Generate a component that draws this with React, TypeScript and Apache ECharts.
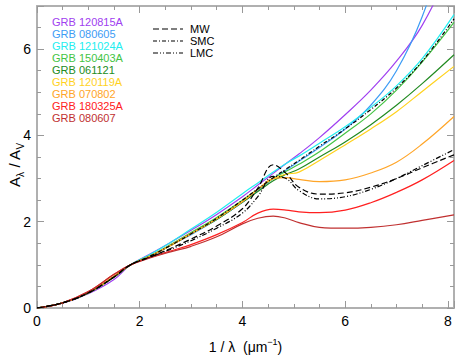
import React, { useEffect, useRef } from "react";
import * as echarts from "echarts";

const X = [0, 0.5, 1, 1.5, 1.82, 2.2, 2.6, 3, 3.5, 4, 4.3, 4.6, 4.85, 5.1, 5.5, 6, 6.5, 7, 7.5, 8.12];

const grb120815A = [0, 0.11, 0.33, 0.66, 1, 1.25, 1.52, 1.8, 2.17, 2.58, 2.85, 3.12, 3.35, 3.57, 3.95, 4.48, 5.05, 5.72, 6.55, 8.05];
const grb080605 = [0, 0.12, 0.35, 0.72, 1, 1.2, 1.45, 1.7, 2.05, 2.45, 2.72, 3.0, 3.2, 3.4, 3.72, 4.15, 4.7, 5.5, 6.75, 9.0];
const grb121024A = [0, 0.12, 0.35, 0.72, 1, 1.24, 1.52, 1.83, 2.22, 2.65, 2.9, 3.15, 3.35, 3.52, 3.82, 4.2, 4.65, 5.15, 5.78, 6.8];
const grb150403A = [0, 0.12, 0.35, 0.72, 1, 1.21, 1.47, 1.75, 2.1, 2.5, 2.75, 3.0, 3.17, 3.33, 3.62, 4.05, 4.5, 5.05, 5.7, 6.62];
const grb061121 = [0, 0.12, 0.35, 0.72, 1, 1.2, 1.45, 1.72, 2.05, 2.45, 2.7, 2.95, 3.1, 3.22, 3.5, 3.85, 4.25, 4.7, 5.2, 5.87];
const grb120119A = [0, 0.12, 0.35, 0.72, 1, 1.2, 1.45, 1.72, 2.07, 2.47, 2.75, 3.0, 3.1, 3.15, 3.42, 3.78, 4.15, 4.55, 5.02, 5.6];
const grb070802 = [0, 0.12, 0.36, 0.74, 1, 1.2, 1.45, 1.72, 2.07, 2.47, 2.75, 3.0, 3.02, 2.98, 2.93, 2.97, 3.13, 3.38, 3.8, 4.44];
const grb180325A = [0, 0.12, 0.38, 0.78, 1, 1.17, 1.32, 1.47, 1.7, 1.98, 2.2, 2.29, 2.27, 2.23, 2.21, 2.27, 2.44, 2.68, 2.97, 3.42];
const grb080607 = [0, 0.12, 0.38, 0.78, 1, 1.16, 1.3, 1.43, 1.65, 1.95, 2.08, 2.13, 2.08, 1.98, 1.87, 1.85, 1.87, 1.93, 2.03, 2.16];
const mwCurve = [0, 0.12, 0.35, 0.72, 1, 1.18, 1.38, 1.6, 1.9, 2.3, 2.78, 3.32, 3.12, 2.8, 2.64, 2.67, 2.8, 3.0, 3.25, 3.55];
const smcCurve = [0, 0.12, 0.35, 0.72, 1, 1.2, 1.45, 1.72, 2.08, 2.5, 2.76, 3.02, 3.22, 3.42, 3.75, 4.15, 4.6, 5.1, 5.72, 6.7];
const lmcCurve = [0, 0.12, 0.35, 0.72, 1, 1.18, 1.36, 1.56, 1.85, 2.2, 2.58, 3.05, 3.0, 2.72, 2.53, 2.58, 2.75, 3.0, 3.3, 3.67];

const grbNames = ["GRB 120815A", "GRB 080605", "GRB 121024A", "GRB 150403A", "GRB 061121", "GRB 120119A", "GRB 070802", "GRB 180325A", "GRB 080607"];
const grbColors = ["#a040f0", "#3d9cf5", "#22eef0", "#44c444", "#228b22", "#ffd21e", "#ffa528", "#ff2020", "#c03030"];
const grbValues = [grb120815A, grb080605, grb121024A, grb150403A, grb061121, grb120119A, grb070802, grb180325A, grb080607];

const refNames = ["MW", "SMC", "LMC"];
const refValues = [mwCurve, smcCurve, lmcCurve];
const refDashes = [[6, 3], [4, 2, 1, 2], [5, 2, 1, 2, 1, 2]];

const xTickLabels = [0, 2, 4, 6, 8];
const yTickLabels = [0, 2, 4, 6];

const FONT = "'Liberation Sans', Arial, Helvetica, sans-serif";
const AXIS_COLOR = "#b0b0b0";

export default function App() {
  const ref = useRef<HTMLDivElement>(null);
  useEffect(() => {
    document.body.style.margin = "0";
    const chart = echarts.init(ref.current!, undefined, { renderer: "svg" });
    const fmtX = (v: number) => (xTickLabels.includes(v) ? String(v) : "");
    const fmtY = (v: number) => (yTickLabels.includes(v) ? String(v) : "");
    const mkAxis = (pos: string, max: number, interval: number, len: number, labels: boolean, line: boolean, fmt: any) => ({
      type: "value",
      position: pos,
      min: 0,
      max,
      interval,
      splitLine: { show: false },
      axisLine: { show: line, onZero: false, lineStyle: { color: AXIS_COLOR, width: 2 } },
      axisTick: { show: true, inside: true, length: len, lineStyle: { color: "#999", width: 1 } },
      axisLabel: { show: labels, formatter: fmt, color: "#000", fontSize: 14, fontFamily: FONT, margin: 6 },
    });
    const xMax = 8.12;
    const series: any[] = [];
    grbValues.forEach((vals, k) => {
      series.push({
        type: "line",
        name: grbNames[k],
        data: X.map((x, i) => [x, vals[i]]),
        smooth: 0.4,
        showSymbol: false,
        lineStyle: { color: grbColors[k], width: 1.2 },
        itemStyle: { color: grbColors[k] },
        z: 2,
      });
    });
    refValues.forEach((vals, k) => {
      series.push({
        type: "line",
        name: refNames[k],
        data: X.map((x, i) => [x, vals[i]]),
        smooth: 0.4,
        showSymbol: false,
        lineStyle: { color: "#000", width: 1.2, type: refDashes[k] },
        itemStyle: { color: "#000" },
        z: 3,
      });
    });
    const graphics: any[] = [];
    grbNames.forEach((n, k) => {
      graphics.push({
        type: "text",
        left: 52,
        top: 16 + 12.1 * k,
        style: { text: n, fill: grbColors[k], font: `11px ${FONT}` },
      });
    });
    refNames.forEach((n, k) => {
      const y = 29 + 12 * k;
      graphics.push({
        type: "line",
        shape: { x1: 153, y1: y, x2: 183, y2: y },
        style: { stroke: "#000", lineWidth: 1.2, lineDash: refDashes[k] },
      });
      graphics.push({
        type: "text",
        left: 190,
        top: y - 6,
        style: { text: n, fill: "#000", font: `11px ${FONT}` },
      });
    });
    graphics.push({
      type: "text",
      x: 16,
      y: 165,
      rotation: Math.PI / 2,
      style: {
        text: "{a|A}{s|λ}{a| / A}{s|V}",
        align: "center",
        verticalAlign: "middle",
        rich: {
          a: { fontSize: 15, fontFamily: FONT, fill: "#000", lineHeight: 18, verticalAlign: "top" },
          s: { fontSize: 10, fontFamily: FONT, fill: "#000", lineHeight: 18, verticalAlign: "bottom" },
        },
      },
    });
    chart.setOption({
      animation: false,
      grid: { left: 37, right: 9, top: 6, bottom: 47, containLabel: false, outerBoundsMode: "none" },
      xAxis: [
        {
          ...mkAxis("bottom", xMax, 2, 7, true, true, fmtX),
          name: "{a|1 / λ  (μm}{s|−1}{a|)}",
          nameLocation: "middle",
          nameGap: 29,
          nameTextStyle: {
            rich: {
              a: { fontSize: 14, fontFamily: FONT, color: "#000", lineHeight: 17, verticalAlign: "bottom" },
              s: { fontSize: 9, fontFamily: FONT, color: "#000", lineHeight: 17, verticalAlign: "top" },
            },
          },
        },
        mkAxis("bottom", xMax, 0.5, 4, false, false, fmtX),
        mkAxis("top", xMax, 2, 7, false, true, fmtX),
        mkAxis("top", xMax, 0.5, 4, false, false, fmtX),
      ],
      yAxis: [
        mkAxis("left", 7, 2, 7, true, true, fmtY),
        mkAxis("left", 7, 0.5, 4, false, false, fmtY),
        mkAxis("right", 7, 2, 7, false, true, fmtY),
        mkAxis("right", 7, 0.5, 4, false, false, fmtY),
      ],
      series,
      graphic: graphics,
    });
    return () => chart.dispose();
  }, []);
  return <div ref={ref} style={{ width: 463, height: 355 }} />;
}
